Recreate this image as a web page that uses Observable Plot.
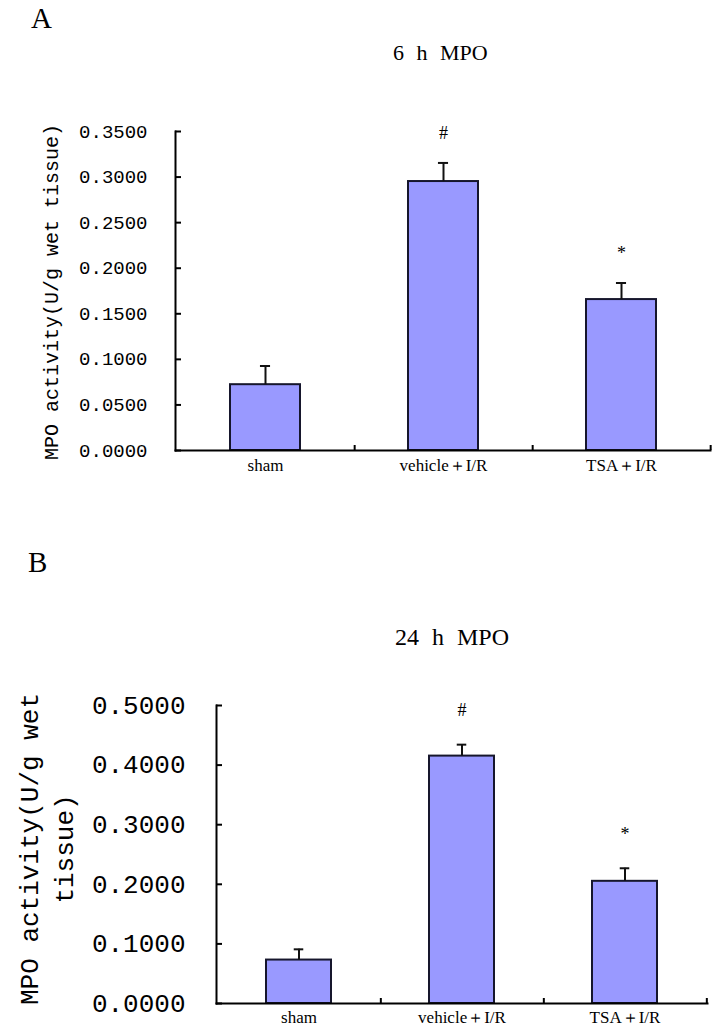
<!DOCTYPE html>
<html>
<head>
<meta charset="utf-8">
<script src="https://cdn.jsdelivr.net/npm/d3@7"></script>
<script src="https://cdn.jsdelivr.net/npm/@observablehq/plot@0.6"></script>
<style>
  html, body { margin: 0; padding: 0; background: #fff; }
  #root { position: relative; width: 719px; height: 1031px; overflow: hidden; background: #fff; }
  .abs { position: absolute; white-space: pre; color: #000; line-height: 1; }
  .panel { font-family: "Liberation Serif", serif; }
  .title { font-family: "Liberation Serif", serif; word-spacing: 7px; }
  .ylab { font-family: "Liberation Mono", monospace; text-align: center; transform: translate(-50%, -50%) rotate(-90deg); }
  svg { position: absolute; left: 0; overflow: visible; }
</style>
</head>
<body>
<div id="root"></div>
<script>
// ---- data ----
const categories = ["sham", "vehicle＋I/R", "TSA＋I/R"];
const mpo6h   = [0.0722, 0.2951, 0.1656];
const err6h   = [0.0205, 0.0204, 0.0182];
const sig6h   = ["", "#", "*"];
const mpo24h  = [0.0729, 0.4151, 0.2050];
const err24h  = [0.0180, 0.0192, 0.0219];
const sig24h  = ["", "#", "*"];
const ticks6h  = [0, 0.05, 0.10, 0.15, 0.20, 0.25, 0.30, 0.35];
const ticks24h = [0, 0.1, 0.2, 0.3, 0.4, 0.5];
const title6h  = "6 h MPO";
const title24h = "24 h MPO";
const yLabel6h = "MPO activity(U/g wet tissue)";
const yLabel24h = ["MPO activity(U/g wet", "tissue)"];

const root = document.getElementById("root");

function addText(cls, text, style) {
  const d = document.createElement("div");
  d.className = "abs " + cls;
  d.textContent = text;
  Object.assign(d.style, style);
  root.appendChild(d);
  return d;
}

function chart(cfg) {
  const data = categories.map((c, i) => ({cat: c, value: cfg.values[i], err: cfg.errs[i], sig: cfg.sigs[i]}));
  const W = 719;
  const step = (W - cfg.ml - cfg.mr) / categories.length;
  const pin = cfg.padInner;
  const bw = step * (1 - pin);
  const capInset = (bw - 10) / 2;
  const fmt = d => d.toFixed(4);
  const svg = Plot.plot({
    width: W,
    height: cfg.height,
    marginLeft: cfg.ml,
    marginRight: cfg.mr,
    marginTop: cfg.mt,
    marginBottom: cfg.mb,
    style: {background: "transparent", color: "#000", overflow: "visible"},
    x: {domain: categories, paddingInner: pin, paddingOuter: pin / 2, align: 0.5},
    y: {domain: [0, cfg.ymax]},
    marks: [
      Plot.barY(data, {x: "cat", y: "value", fill: "#9999ff", stroke: "#16162c", strokeWidth: 2}),
      Plot.ruleX(data, {x: "cat", y1: "value", y2: d => d.value + d.err, stroke: "#111", strokeWidth: 2}),
      Plot.tickY(data, {x: "cat", y: d => d.value + d.err, stroke: "#111", strokeWidth: 2, insetLeft: capInset, insetRight: capInset}),
      Plot.text(data.filter(d => d.sig), {x: "cat", y: d => d.value + d.err, text: "sig", dy: cfg.sigDy,
        fontFamily: "Liberation Serif", fontSize: 18, fill: "#000"}),
      Plot.frame({anchor: "left", stroke: "#000", strokeWidth: 2}),
      Plot.frame({anchor: "bottom", stroke: "#000", strokeWidth: 2}),
      Plot.axisY(cfg.ticks, {tickSize: 0, tickPadding: cfg.tickPad, tickFormat: fmt, label: null,
        fontFamily: "Liberation Mono", fontSize: cfg.tickFont, fill: "#000"}),
      Plot.axisY(cfg.ticks, {tickSize: -6, tickFormat: () => "", label: null, stroke: "#000", strokeWidth: 2}),
      Plot.axisX({tickSize: 0, tickPadding: cfg.xPad, label: null, fontFamily: "Liberation Serif", fontSize: 17, fill: "#000"}),
      Plot.axisX({tickSize: -5, tickFormat: () => "", label: null, dx: step / 2, stroke: "#000", strokeWidth: 2})
    ]
  });
  svg.style.top = cfg.top + "px";
  root.appendChild(svg);
}

// Panel A
chart({values: mpo6h, errs: err6h, sigs: sig6h, ticks: ticks6h, ymax: 0.35,
  top: 0, height: 500, ml: 175, mr: 9, mt: 131, mb: 50, padInner: 0.608,
  tickPad: 28, tickFont: 19, xPad: 8, sigDy: -30});
// Panel B
chart({values: mpo24h, errs: err24h, sigs: sig24h, ticks: ticks24h, ymax: 0.5,
  top: 560, height: 471, ml: 216, mr: 12, mt: 145, mb: 28, padInner: 0.6,
  tickPad: 31, tickFont: 26, xPad: 7, sigDy: -34});

// Text around the plots
addText("panel", "A", {left: "31px", top: "4px", fontSize: "29px"});
addText("panel", "B", {left: "28px", top: "548px", fontSize: "29px"});
addText("title", title6h, {left: "393px", top: "42px", fontSize: "22px"});
addText("title", title24h, {left: "395px", top: "625px", fontSize: "24px"});
addText("ylab", yLabel6h, {left: "53px", top: "292px", fontSize: "20px"});
const yb = addText("ylab", yLabel24h.join("\n"), {left: "49px", top: "849px", fontSize: "26px", lineHeight: "35px"});
</script>
</body>
</html>
